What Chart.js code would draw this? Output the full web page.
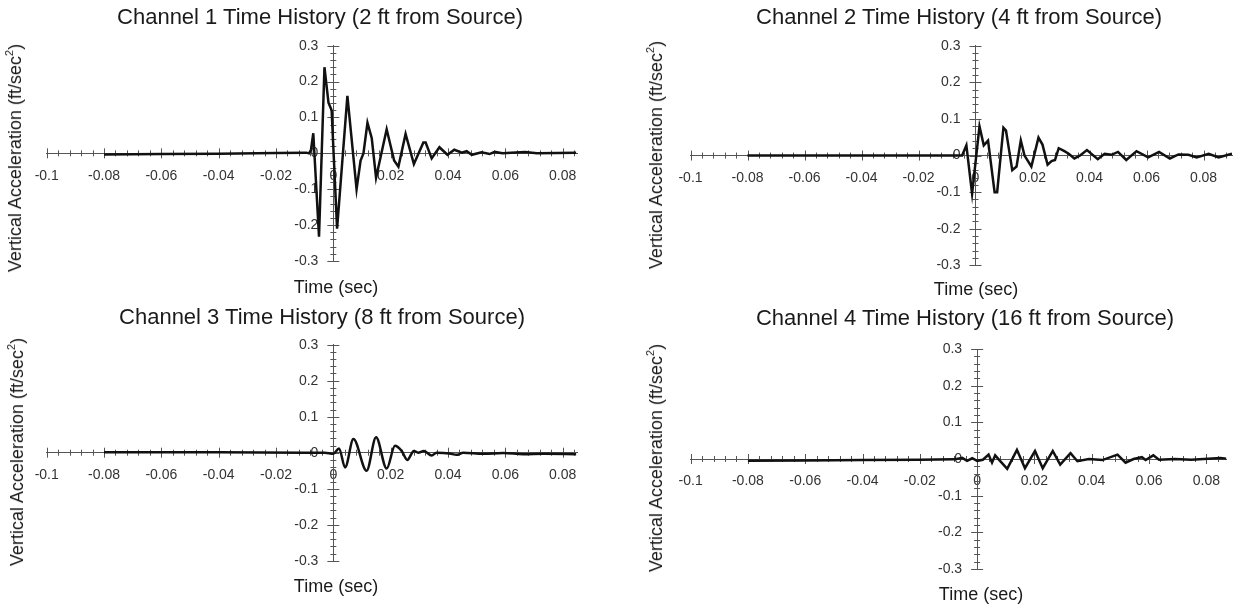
<!DOCTYPE html>
<html>
<head>
<meta charset="utf-8">
<script src="https://cdn.jsdelivr.net/npm/chart.js@4"></script>
<style>
  body { margin: 0; background: #fff; }
  #page { position: relative; width: 1234px; height: 607px; overflow: hidden; }
  #page canvas { position: absolute; }
  .txt { position: absolute; white-space: nowrap; line-height: 1; color: #1a1a1a;
         font-family: "Liberation Sans", Arial, sans-serif; }
  .title { font-size: 22px; transform: translateX(-50%); }
  .xtitle { font-size: 18px; transform: translateX(-50%); }
  .ytitle { font-size: 18px; transform: translate(-50%, -50%) rotate(-90deg); }
  .ytitle sup { font-size: 11px; vertical-align: 8px; line-height: 0; }
</style>
</head>
<body>
<div id="page"></div>
<script>
// tick labels shared by all four channels
const xTicks = [-0.1, -0.08, -0.06, -0.04, -0.02, 0, 0.02, 0.04, 0.06, 0.08];
const yTicks = [-0.3, -0.2, -0.1, 0, 0.1, 0.2, 0.3];
const xMinorStep = 0.004;
const yMinorStep = 0.02;

const channelNames = [
  'Channel 1 Time History (2 ft from Source)',
  'Channel 2 Time History (4 ft from Source)',
  'Channel 3 Time History (8 ft from Source)',
  'Channel 4 Time History (16 ft from Source)'
];
const timeMax = [0.085, 0.09, 0.085, 0.087];

// Channel 1 (2 ft)
const ch1Time = [-0.08, -0.06, -0.04, -0.02, -0.0095, -0.0085, -0.0078, -0.007, -0.005, -0.0031,
  -0.0017, -0.0006, 0.0013, 0.0049, 0.0081, 0.0095, 0.0105, 0.0119, 0.0134, 0.0149,
  0.0186, 0.0212, 0.0227, 0.0252, 0.0281, 0.0314, 0.0322, 0.0343, 0.037, 0.0398,
  0.0422, 0.0448, 0.0465, 0.0483, 0.0517, 0.0545, 0.0563, 0.059, 0.062, 0.0669,
  0.071, 0.078, 0.0847];
const ch1Accel = [-0.003, -0.002, -0.001, 0.001, 0.002, 0.0, 0.01, 0.056, -0.232, 0.24,
  0.141, 0.12, -0.21, 0.16, -0.1, -0.02, 0.0, 0.085, 0.042, -0.068,
  0.067, -0.02, -0.037, 0.054, -0.03, 0.03, 0.03, -0.014, 0.017, -0.004,
  0.01, 0.002, 0.006, -0.004, 0.003, -0.002, 0.004, 0.0, 0.002, 0.004,
  0.0, 0.001, 0.002];

// Channel 2 (4 ft)
const ch2Time = [-0.08, -0.04, -0.01, -0.0047, -0.0032, -0.0012, 0.0014, 0.0029, 0.0044, 0.0067,
  0.0076, 0.0098, 0.0107, 0.0129, 0.0144, 0.0159, 0.0172, 0.0196, 0.0221, 0.0235,
  0.0253, 0.0267, 0.0279, 0.0292, 0.0312, 0.0327, 0.0347, 0.0367, 0.0391, 0.0429,
  0.0453, 0.0477, 0.05, 0.0529, 0.0565, 0.0606, 0.0644, 0.0682, 0.0712, 0.0747,
  0.0776, 0.0818, 0.0853, 0.09];
const ch2Accel = [0.0, 0.0, 0.0, 0.0, 0.028, -0.104, 0.08, 0.028, 0.041, -0.1,
  -0.1, 0.076, 0.068, -0.04, -0.03, 0.041, 0.0, -0.03, 0.049, 0.03,
  -0.025, -0.015, -0.012, 0.02, 0.012, 0.005, -0.008, 0.0, 0.015, -0.01,
  0.005, 0.002, 0.01, -0.012, 0.012, -0.005, 0.01, -0.008, 0.003, 0.002,
  -0.005, 0.005, -0.005, 0.005];

// Channel 3 (8 ft)
const ch3Time = [-0.08, -0.04, -0.01, -0.003, 0.0, 0.002, 0.0041, 0.007, 0.0116, 0.0149,
  0.0186, 0.0215, 0.0238, 0.0258, 0.0281, 0.0296, 0.0316, 0.0343, 0.036, 0.0405,
  0.043, 0.0453, 0.0523, 0.0593, 0.0663, 0.0733, 0.0847];
const ch3Accel = [0.001, 0.001, 0.0, 0.0, -0.003, 0.012, -0.041, 0.038, -0.05, 0.043,
  -0.044, 0.019, 0.005, -0.02, 0.005, 0.0, 0.005, -0.008, 0.0, -0.002,
  -0.006, 0.0, -0.003, -0.001, -0.004, -0.003, -0.004];

// Channel 4 (16 ft)
const ch4Time = [-0.08, -0.06, -0.04, -0.02, -0.008, -0.0052, -0.0035, -0.0017, 0.0, 0.002,
  0.004, 0.0052, 0.0063, 0.008, 0.0105, 0.0139, 0.0167, 0.0202, 0.0229, 0.0264,
  0.029, 0.0326, 0.035, 0.039, 0.0437, 0.049, 0.0518, 0.0546, 0.0575, 0.0588,
  0.0615, 0.0635, 0.069, 0.0747, 0.085, 0.087];
const ch4Accel = [-0.005, -0.004, -0.003, -0.002, -0.001, 0.003, -0.005, 0.002, -0.005, -0.002,
  0.012, -0.01, 0.01, -0.005, -0.027, 0.025, -0.025, 0.022, -0.025, 0.022,
  -0.015, 0.016, -0.006, 0.0, -0.003, 0.012, -0.01, 0.0, 0.005, -0.003,
  0.01, -0.002, 0.0, -0.002, 0.003, 0.001];

const channelTimes = [ch1Time, ch2Time, ch3Time, ch4Time];
const channelAccels = [ch1Accel, ch2Accel, ch3Accel, ch4Accel];

// page layout: canvas box, plot area (page px), text anchors
const panels = [
  { box: [0, 0, 617, 303],     area: [46.7, 577, 45.7, 261],  title: [320, 25],  xt: [336, 293], yt: [15, 158] },
  { box: [617, 0, 617, 303],   area: [690.5, 1232, 45.8, 265.3], title: [959, 25], xt: [976, 295], yt: [656, 155] },
  { box: [0, 303, 617, 304],   area: [46.7, 577, 344.7, 560.7], title: [322, 325], xt: [336, 592], yt: [17, 452] },
  { box: [617, 303, 617, 304], area: [690.6, 1233, 349, 569],  title: [965, 326], xt: [981, 600], yt: [656, 458] }
];

const AXIS_COLOR = '#555';
const LABEL_COLOR = '#333';
const FONT = '"Liberation Sans", Arial, sans-serif';

// tick marks crossing both axes plus the value labels left of the vertical
// axis (Chart.js ignores tick padding on a y axis placed at x = 0)
const crossTicks = {
  id: 'crossTicks',
  beforeDatasetsDraw(chart) {
    const {ctx, scales: {x, y}} = chart;
    const x0 = x.getPixelForValue(0);
    const y0 = y.getPixelForValue(0);
    ctx.save();
    ctx.strokeStyle = AXIS_COLOR;
    ctx.lineWidth = 1;
    ctx.beginPath();
    const iStart = Math.round(x.min / xMinorStep);
    for (let i = iStart; i * xMinorStep <= x.max + 1e-9; i++) {
      const px = Math.round(x.getPixelForValue(i * xMinorStep)) + 0.5;
      const len = (i % 5 === 0) ? 5 : 3;
      ctx.moveTo(px, y0 - len);
      ctx.lineTo(px, y0 + len);
    }
    const jStart = Math.round(y.min / yMinorStep);
    for (let j = jStart; j * yMinorStep <= y.max + 1e-9; j++) {
      const py = Math.round(y.getPixelForValue(j * yMinorStep)) + 0.5;
      const len = (j % 5 === 0) ? 6 : 3;
      ctx.moveTo(x0 - len, py);
      ctx.lineTo(x0 + len, py);
    }
    ctx.stroke();

    ctx.fillStyle = LABEL_COLOR;
    ctx.font = '14px ' + FONT;
    ctx.textAlign = 'right';
    ctx.textBaseline = 'middle';
    yTicks.forEach(v => {
      ctx.fillText(String(Math.round(v * 10) / 10), x0 - 15, y.getPixelForValue(v));
    });
    ctx.restore();
  }
};

const page = document.getElementById('page');

function addText(cls, html, left, top) {
  const d = document.createElement('div');
  d.className = 'txt ' + cls;
  d.innerHTML = html;
  d.style.left = left + 'px';
  d.style.top = top + 'px';
  page.appendChild(d);
}

panels.forEach((p, k) => {
  const [bx, by, bw, bh] = p.box;
  const [al, ar, at, ab] = p.area;

  const canvas = document.createElement('canvas');
  canvas.width = bw;
  canvas.height = bh;
  canvas.style.left = bx + 'px';
  canvas.style.top = by + 'px';
  canvas.style.width = bw + 'px';
  canvas.style.height = bh + 'px';
  page.appendChild(canvas);

  const points = channelTimes[k].map((t, i) => ({x: t, y: channelAccels[k][i]}));

  new Chart(canvas.getContext('2d'), {
    type: 'scatter',
    data: {
      datasets: [{
        data: points,
        showLine: true,
        borderColor: '#111',
        borderWidth: 2.5,
        pointRadius: 0,
        tension: 0,
        cubicInterpolationMode: k === 2 ? 'monotone' : 'default'
      }]
    },
    options: {
      responsive: false,
      animation: false,
      events: [],
      layout: {
        autoPadding: false,
        padding: { left: al - bx, right: bx + bw - ar, top: at - by, bottom: by + bh - ab }
      },
      plugins: { legend: { display: false }, tooltip: { enabled: false } },
      scales: {
        x: {
          type: 'linear',
          min: -0.1,
          max: timeMax[k],
          position: { y: 0 },
          grid: { display: false, drawTicks: false },
          border: { display: true, color: AXIS_COLOR, width: 1 },
          afterBuildTicks: s => { s.ticks = xTicks.map(v => ({value: v})); },
          ticks: {
            autoSkip: false,
            maxRotation: 0,
            padding: 14,
            color: LABEL_COLOR,
            font: { family: FONT, size: 14 },
            callback: v => String(Math.round(v * 100) / 100)
          }
        },
        y: {
          type: 'linear',
          min: -0.3,
          max: 0.3,
          position: { x: 0 },
          grid: { display: false, drawTicks: false },
          border: { display: true, color: AXIS_COLOR, width: 1 },
          afterBuildTicks: s => { s.ticks = yTicks.map(v => ({value: v})); },
          ticks: { display: false }
        }
      }
    },
    plugins: [crossTicks]
  });

  addText('title', channelNames[k], p.title[0], p.title[1] - 18.6);
  addText('xtitle', 'Time (sec)', p.xt[0], p.xt[1] - 15.2);
  addText('ytitle', 'Vertical Acceleration (ft/sec<sup>2</sup>)', p.yt[0], p.yt[1]);
});
</script>
</body>
</html>
